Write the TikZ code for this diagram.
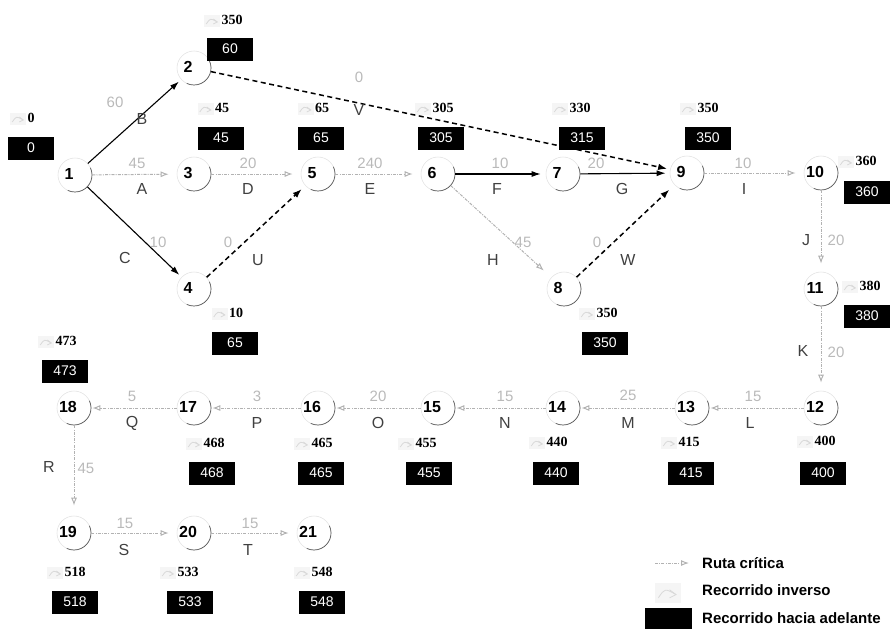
\documentclass[tikz,border=0pt]{standalone}
\usepackage{fontspec}
\setmainfont{Liberation Serif}
\setsansfont{Liberation Sans}
\usetikzlibrary{arrows.meta}
\tikzset{
  ico/.pic={
    \fill[gray!8] (-8,-6) rectangle (8,6);
    \draw[gray!30,line width=0.8pt] (-6,3) .. controls (-2,-3) .. (5,1);
    \draw[gray!30,line width=0.8pt] (1,-2) -- (5,1) -- (1,3);
  }
}
\begin{document}
\begin{tikzpicture}[x=1pt,y=-1pt,
  nd/.style={circle,draw=gray!22,line width=0.6pt,minimum size=34pt,inner sep=0pt},
  arcd/.style={draw=black!65,line width=0.7pt},
  num/.style={font=\sffamily\bfseries\fontsize{16}{16}\selectfont,inner sep=0pt},
  dur/.style={font=\sffamily\fontsize{15}{15}\selectfont,text=gray!55,inner sep=0pt},
  lab/.style={font=\sffamily\fontsize{16}{16}\selectfont,text=black!75,inner sep=0pt},
  lt/.style={font=\rmfamily\bfseries\fontsize{14}{14}\selectfont,inner sep=0pt},
  eb/.style={fill=black,text=white,minimum width=46pt,minimum height=23pt,inner sep=0pt,font=\sffamily\fontsize{14}{14}\selectfont},
  crit/.style={draw=gray!60,line width=1pt,dash pattern=on 3pt off 1.2pt on 1pt off 1.2pt,-{Latex[open,length=8pt,width=6pt]},shorten >=8pt},
  critb/.style={crit,shorten >=1pt},
  act/.style={draw=black,line width=1.1pt,-{Latex[length=9pt,width=6pt]},shorten >=3pt},
  dum/.style={draw=black,line width=1.5pt,dash pattern=on 5pt off 3.5pt,-{Latex[length=9pt,width=6.5pt]},shorten >=3pt},
  legt/.style={font=\sffamily\bfseries\fontsize{15}{15}\selectfont,anchor=west,inner sep=0pt},
]
\useasboundingbox (0,0) rectangle (890,629);

% event nodes
\foreach \i/\x/\y in {1/69/174,2/188/67,3/188/173,4/188/288,5/312/173,6/432/173,7/557/173,
  8/558/288,9/681/172,10/815/172,11/815/288,12/815/407,13/686/407,14/557/407,15/432/407,
  16/312/407,17/188/407,18/68/407,19/68/532,20/188/532,21/308/532}{
  \node[nd] (n\i) at (\x+6,\y+1) {};
  \draw[arcd] (n\i.center) ++(25:17pt) arc[start angle=25,end angle=-115,radius=17pt];
  \node[num] (t\i) at (\x,\y) {\i};
}

% late (inverse) and early (forward) times
\foreach \i/\lx/\ly/\lv/\bx/\by/\bv in {
  1/31/118/0/31/148/0, 2/232/20/350/230/49/60, 3/222/108/45/221/138/45,
  5/322/108/65/321/138/65, 6/443/108/305/441/138/305, 7/580/108/330/582/138/315,
  9/708/108/350/708/138/350, 10/866/161/360/867/192/360, 11/870/286/380/867/316/380,
  4/236/313/10/235/343/65, 8/607/313/350/605/343/350, 18/66/341/473/65/371/473,
  17/214/443/468/212/473/468, 16/322/443/465/321/473/465, 15/426/443/455/429/473/455,
  14/557/442/440/556/473/440, 13/689/442/415/691/473/415, 12/825/441/400/823/473/400,
  19/75/572/518/75/602/518, 20/188/572/533/190/602/533, 21/322/572/548/322/602/548}{
  \node[lt] (l\i) at (\lx,\ly) {\lv};
  \pic at ([xshift=-9pt,yshift=-1pt]l\i.west) {ico};
  \node[eb] (e\i) at (\bx,\by) {\bv};
}

% activities
\draw[act] (n1) -- (n2);
\draw[crit] (n1) -- (n3);
\draw[act] (n1) -- (n4);
\draw[dum] (n2) -- (n9);
\draw[crit] (n3) -- (n5);
\draw[dum,shorten >=5pt] (n4) -- (n5);
\draw[crit] (n5) -- (n6);
\draw[act,shorten >=5pt] (n6) -- (n7);
\draw[act,shorten >=4pt] (n7) -- (n9);
\draw[crit,shorten >=10pt] (n6) -- (n8);
\draw[dum,shorten >=7pt] (n8) -- (n9);
\draw[crit] (n9) -- (n10);
\draw[crit] (n10) -- (n11);
\draw[crit] (n11) -- (n12);
\draw[critb] (n12) -- (n13);
\draw[critb] (n13) -- (n14);
\draw[critb] (n14) -- (n15);
\draw[critb] (n15) -- (n16);
\draw[critb] (n16) -- (n17);
\draw[critb] (n17) -- (n18);
\draw[crit,shorten >=10pt] (n18) -- (n19);
\draw[crit] (n19) -- (n20);
\draw[crit] (n20) -- (n21);

% activity labels
\node[dur] (dB) at (115,102) {60};  \node[lab] (aB) at (142,119) {B};
\node[dur] (dA) at (137,163) {45};  \node[lab] (aA) at (142,189) {A};
\node[dur] (dC) at (158,242) {10};  \node[lab] (aC) at (125,258) {C};
\node[dur] (dV) at (359,77) {0};    \node[lab] (aV) at (359,110) {V};
\node[dur] (dD) at (248,163) {20};  \node[lab] (aD) at (248,189) {D};
\node[dur] (dU) at (228,242) {0};   \node[lab] (aU) at (258,260) {U};
\node[dur] (dE) at (370,163) {240}; \node[lab] (aE) at (370,189) {E};
\node[dur] (dF) at (500,163) {10};  \node[lab] (aF) at (497,189) {F};
\node[dur] (dG) at (596,163) {20};  \node[lab] (aG) at (622,189) {G};
\node[dur] (dH) at (523,242) {45};  \node[lab] (aH) at (493,260) {H};
\node[dur] (dW) at (597,242) {0};   \node[lab] (aW) at (628,260) {W};
\node[dur] (dI) at (743,163) {10};  \node[lab] (aI) at (744,189) {I};
\node[lab] (aJ) at (806,240) {J};   \node[dur] (dJ) at (836,240) {20};
\node[lab] (aK) at (803,351) {K};   \node[dur] (dK) at (836,352) {20};
\node[dur] (dL) at (753,396) {15};  \node[lab] (aL) at (750,423) {L};
\node[dur] (dM) at (628,395) {25};  \node[lab] (aM) at (628,423) {M};
\node[dur] (dN) at (505,396) {15};  \node[lab] (aN) at (505,423) {N};
\node[dur] (dO) at (378,396) {20};  \node[lab] (aO) at (378,423) {O};
\node[dur] (dP) at (257,396) {3};   \node[lab] (aP) at (257,423) {P};
\node[dur] (dQ) at (132,396) {5};   \node[lab] (aQ) at (132,423) {Q};
\node[lab] (aR) at (49,467) {R};    \node[dur] (dR) at (86,468) {45};
\node[dur] (dS) at (125,523) {15};  \node[lab] (aS) at (124,550) {S};
\node[dur] (dT) at (250,523) {15};  \node[lab] (aT) at (248,550) {T};

% legend
\coordinate (lg1) at (655,563);
\coordinate (lg2) at (689,563);
\draw[crit,shorten >=0pt] (lg1) -- (lg2);
\node[legt] (lgt1) at (702,563) {Ruta crítica};
\pic[scale=1.6] at (668,593) {ico};
\node[legt] (lgt2) at (702,590) {Recorrido inverso};
\node[fill=black,minimum width=47pt,minimum height=21pt,inner sep=0pt] (lgb) at (668.5,618.5) {};
\node[legt] (lgt3) at (702,618) {Recorrido hacia adelante};
\end{tikzpicture}
\end{document}
